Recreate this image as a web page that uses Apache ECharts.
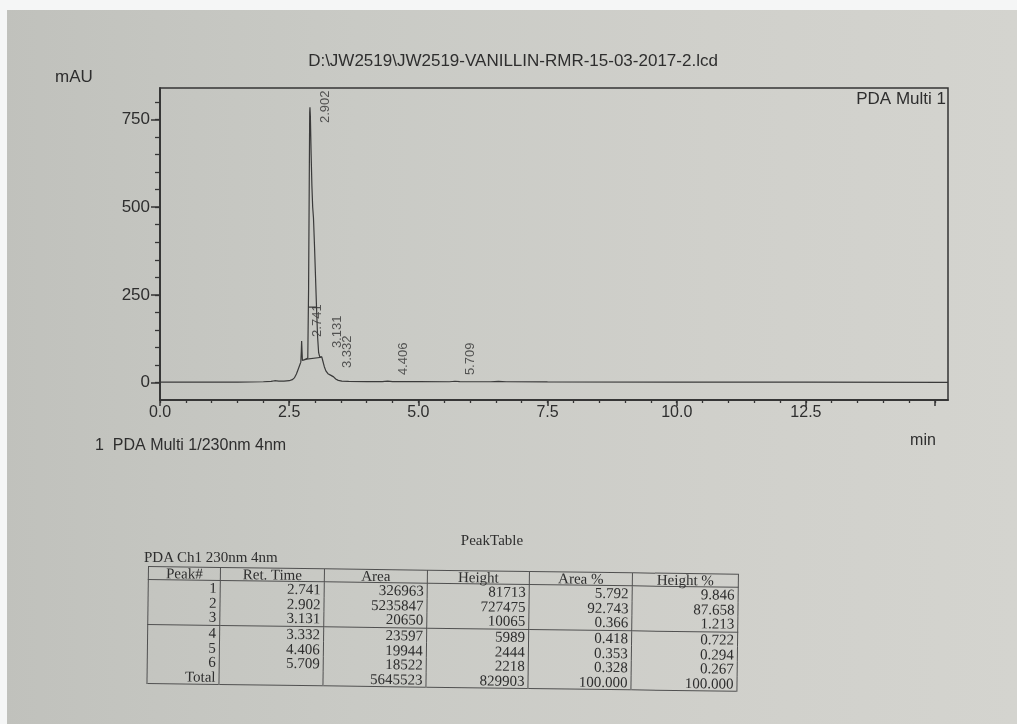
<!DOCTYPE html>
<html lang="en">
<head>
<meta charset="UTF-8">
<title>JW2519 Vanillin chromatogram</title>
<script src="https://cdn.jsdelivr.net/npm/echarts@6/dist/echarts.min.js"></script>
<style>
    html, body { margin: 0; padding: 0; }
    body {
        width: 1017px; height: 724px; overflow: hidden; position: relative;
        background: linear-gradient(90deg, #c0c1bc 0%, #c9cac5 35%, #d0d0cb 70%, #d4d4cf 100%);
    }
    #strip-top { position: absolute; left: 0; top: 0; width: 1017px; height: 10px; background: #f5f6f6; z-index: 3; }
    #strip-left { position: absolute; left: 0; top: 0; width: 7px; height: 724px; background: #f5f6f6; z-index: 3; }
    #chart { position: absolute; left: 0; top: 0; width: 1017px; height: 724px; }
    .serif { font-family: "Liberation Serif", "DejaVu Serif", serif; color: #2e2e2e; }
    #ptitle { position: absolute; left: 0; width: 984px; top: 532px; text-align: center; font-size: 15px; line-height: 17px; }
    #pch { position: absolute; left: 144px; top: 549px; font-size: 15px; line-height: 17px; }
    #peaktable {
        position: absolute; left: 148px; top: 566px;
        border-collapse: collapse; border: 1px solid #505050;
        font-size: 15px;
        transform: rotate(0.75deg); transform-origin: left top;
    }
    #peaktable th, #peaktable td {
        border-left: 1px solid #505050; border-right: 1px solid #505050;
        padding: 0 3px; height: 14.6px; line-height: 14px;
        text-align: right; font-weight: normal; white-space: nowrap;
    }
    #peaktable th { text-align: center; height: 12px; line-height: 12px; border-bottom: 1px solid #505050; }
    #peaktable tr.sep td { border-bottom: 1px solid #505050; }
</style>
</head>
<body>
<div id="strip-top"></div>
<div id="strip-left"></div>
<div id="chart"></div>
<div id="ptitle" class="serif">PeakTable</div>
<div id="pch" class="serif">PDA Ch1 230nm 4nm</div>
<table id="peaktable" class="serif"></table>

<script>
    // trace (min, mAU)
    var traceTime = [0.00, 0.50, 1.00, 1.50, 2.00, 2.15, 2.22, 2.30, 2.40, 2.50,
        2.56, 2.60, 2.64, 2.68, 2.71, 2.725, 2.735, 2.741, 2.748, 2.756,
        2.78, 2.82, 2.86, 2.875, 2.888, 2.897, 2.902, 2.91, 2.925, 2.94,
        2.955, 2.97, 2.99, 3.01, 3.03, 3.05, 3.07, 3.09, 3.11, 3.131,
        3.15, 3.18, 3.21, 3.25, 3.30, 3.332, 3.36, 3.40, 3.45, 3.52,
        3.65, 4.00, 4.30, 4.406, 4.50, 5.00, 5.60, 5.709, 5.80, 6.40,
        6.55, 6.70, 7.50, 10.00, 12.50, 15.25];
    var traceMAU = [0.8, 0.8, 1.0, 1.2, 2.0, 3.0, 5.0, 4.0, 4.0, 5.0,
        8, 13, 24, 40, 52, 58, 90, 118, 92, 63,
        64, 66, 70, 260, 560, 770, 785, 760, 650, 560,
        500, 470, 390, 300, 210, 130, 85, 74, 72, 73,
        62, 45, 33, 25, 21, 22, 16, 10, 6, 4,
        3, 2.5, 2.5, 3.8, 2.5, 2.2, 2.0, 3.5, 2.2, 2.0,
        3.0, 2.0, 1.5, 1.2, 0.8, 0.5];

    // integration marks drawn across the main peak
    var markTime = [2.872, 3.03, null, 2.80, 3.131];
    var markMAU = [215, 215, null, 66, 72];

    // peak table
    var peakNo = [1, 2, 3, 4, 5, 6];
    var retTime = [2.741, 2.902, 3.131, 3.332, 4.406, 5.709];
    var peakArea = [326963, 5235847, 20650, 23597, 19944, 18522];
    var peakHeight = [81713, 727475, 10065, 5989, 2444, 2218];
    var areaPct = [5.792, 92.743, 0.366, 0.418, 0.353, 0.328];
    var heightPct = [9.846, 87.658, 1.213, 0.722, 0.294, 0.267];
    var totalArea = 5645523;
    var totalHeight = 829903;

    // where each retention time label sits (mAU at the foot of the text)
    var peakLabelMAU = [130, 740, 98, 41, 21, 21];

    var yMajor = [0, 250, 500, 750];
    var xMajor = [0, 2.5, 5, 7.5, 10, 12.5, 15];
    var xLabels = [0, 2.5, 5, 7.5, 10, 12.5];

    var yMinor = [];
    for (var v = 0; v <= 800; v += 50) yMinor.push(v);
    var xMinor = [];
    for (var m = 0; m <= 30; m++) xMinor.push(m * 0.5);

    var ink = '#353535';
    var sans = '"Liberation Sans", Arial, sans-serif';

    var traceData = traceTime.map(function (t, i) { return [t, traceMAU[i]]; });
    var markData = markTime.map(function (t, i) { return t === null ? '-' : [t, markMAU[i]]; });
    var labelData = retTime.map(function (t, i) { return [t + 0.3, peakLabelMAU[i], t.toFixed(3)]; });

    var xBase = {
        type: 'value', min: 0, max: 15.25, position: 'bottom',
        axisLine: { show: true, onZero: false, lineStyle: { color: ink, width: 1.5 } },
        splitLine: { show: false }
    };
    var yBase = {
        type: 'value', min: -50, max: 840, position: 'left',
        axisLine: { show: true, onZero: false, lineStyle: { color: ink, width: 1.5 } },
        splitLine: { show: false }
    };

    var option = {
        animation: false,
        backgroundColor: 'transparent',
        grid: {
            left: 160, right: 69, top: 88, bottom: 324,
            containLabel: false, outerBoundsMode: 'none',
            show: true, borderColor: ink, borderWidth: 1.5, backgroundColor: 'transparent'
        },
        xAxis: [
            Object.assign({}, xBase, {
                axisTick: { show: true, inside: false, length: 3, customValues: xMinor, lineStyle: { color: ink, width: 1.3 } },
                axisLabel: { show: false }
            }),
            Object.assign({}, xBase, {
                axisTick: { show: true, inside: false, length: 6, customValues: xMajor, lineStyle: { color: ink, width: 1.5 } },
                axisLabel: {
                    show: true, customValues: xLabels, margin: 5,
                    fontFamily: sans, fontSize: 16, color: '#2e2e2e',
                    formatter: function (val) { return val.toFixed(1); }
                }
            })
        ],
        yAxis: [
            Object.assign({}, yBase, {
                axisTick: { show: true, inside: false, length: 5, customValues: yMinor, lineStyle: { color: ink, width: 1.3 } },
                axisLabel: { show: false }
            }),
            Object.assign({}, yBase, {
                axisTick: { show: true, inside: false, length: 9, customValues: yMajor, lineStyle: { color: ink, width: 1.5 } },
                axisLabel: {
                    show: true, customValues: yMajor, margin: 10,
                    fontFamily: sans, fontSize: 17, color: '#2e2e2e'
                }
            })
        ],
        graphic: [
            { type: 'text', x: 513, y: 61, style: { text: 'D:\\JW2519\\JW2519-VANILLIN-RMR-15-03-2017-2.lcd', font: '17px ' + sans, fill: '#2e2e2e', align: 'center', verticalAlign: 'middle' } },
            { type: 'text', x: 74, y: 77, style: { text: 'mAU', font: '17px ' + sans, fill: '#2e2e2e', align: 'center', verticalAlign: 'middle' } },
            { type: 'text', x: 946, y: 99, style: { text: 'PDA Multi 1', font: '17px ' + sans, fill: '#2e2e2e', align: 'right', verticalAlign: 'middle' } },
            { type: 'text', x: 923, y: 441, style: { text: 'min', font: '16px ' + sans, fill: '#2e2e2e', align: 'center', verticalAlign: 'middle' } },
            { type: 'text', x: 95, y: 446, style: { text: '1  PDA Multi 1/230nm 4nm', font: '16px ' + sans, fill: '#2e2e2e', align: 'left', verticalAlign: 'middle' } }
        ],
        series: [
            {
                name: 'PDA Multi 1', type: 'line', data: traceData,
                xAxisIndex: 0, yAxisIndex: 0,
                showSymbol: false, symbol: 'none', clip: true,
                lineStyle: { color: '#3a3a3a', width: 1.2 }
            },
            {
                name: 'marks', type: 'line', data: markData,
                xAxisIndex: 0, yAxisIndex: 0, connectNulls: false,
                showSymbol: false, symbol: 'none',
                lineStyle: { color: '#3a3a3a', width: 1.1 }
            },
            {
                name: 'peaks', type: 'scatter', data: labelData,
                xAxisIndex: 0, yAxisIndex: 0, symbolSize: 0,
                label: {
                    show: true, position: 'right', distance: 0, rotate: 90,
                    align: 'left', verticalAlign: 'middle',
                    fontFamily: sans, fontSize: 13, color: '#333',
                    formatter: function (p) { return p.value[2]; }
                }
            }
        ]
    };

    var myChart = echarts.init(document.getElementById('chart'), null, { renderer: 'canvas' });
    myChart.setOption(option);

    // peak table
    var rows = '<tr><th>Peak#</th><th>Ret. Time</th><th>Area</th><th>Height</th><th>Area %</th><th>Height %</th></tr>';
    var widths = [65, 97, 96, 95, 96, 99];
    for (var i = 0; i < peakNo.length; i++) {
        rows += '<tr' + (i === 2 ? ' class="sep"' : '') + '>' +
            '<td>' + peakNo[i] + '</td>' +
            '<td>' + retTime[i].toFixed(3) + '</td>' +
            '<td>' + peakArea[i] + '</td>' +
            '<td>' + peakHeight[i] + '</td>' +
            '<td>' + areaPct[i].toFixed(3) + '</td>' +
            '<td>' + heightPct[i].toFixed(3) + '</td></tr>';
    }
    rows += '<tr><td>Total</td><td></td><td>' + totalArea + '</td><td>' + totalHeight +
        '</td><td>100.000</td><td>100.000</td></tr>';
    var tbl = document.getElementById('peaktable');
    tbl.innerHTML = rows;
    var heads = tbl.querySelectorAll('th');
    for (var k = 0; k < heads.length; k++) heads[k].style.width = widths[k] + 'px';
</script>
</body>
</html>
